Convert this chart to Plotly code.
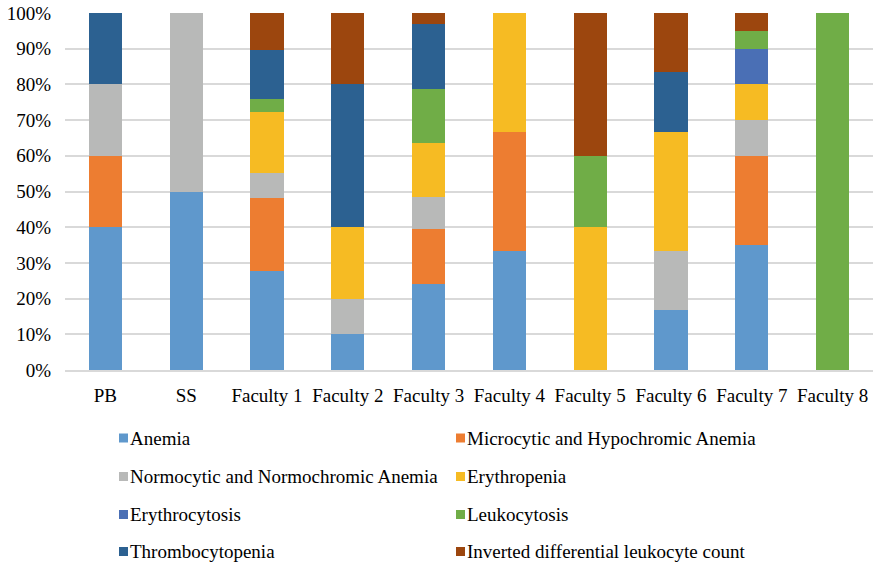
import plotly.graph_objects as go

categories = ["PB", "SS", "Faculty 1", "Faculty 2", "Faculty 3", "Faculty 4",
              "Faculty 5", "Faculty 6", "Faculty 7", "Faculty 8"]

anemia = [40, 50, 27.6, 10, 24.2, 33.3, 0, 16.7, 35, 0]
microcytic = [20, 0, 20.7, 0, 15.2, 33.3, 0, 0, 25, 0]
normocytic = [20, 50, 6.9, 10, 9.1, 0, 0, 16.7, 10, 0]
erythropenia = [0, 0, 17.2, 20, 15.2, 33.4, 40, 33.3, 10, 0]
erythrocytosis = [0, 0, 0, 0, 0, 0, 0, 0, 10, 0]
leukocytosis = [0, 0, 3.4, 0, 15.2, 0, 20, 0, 5, 100]
thrombocytopenia = [20, 0, 13.8, 40, 18.2, 0, 0, 16.7, 0, 0]
inverted = [0, 0, 10.4, 20, 3.0, 0, 40, 16.6, 5, 0]

series_names = ["Anemia", "Microcytic and Hypochromic Anemia",
                "Normocytic and Normochromic Anemia", "Erythropenia",
                "Erythrocytosis", "Leukocytosis", "Thrombocytopenia",
                "Inverted differential leukocyte count"]
series_values = [anemia, microcytic, normocytic, erythropenia,
                 erythrocytosis, leukocytosis, thrombocytopenia, inverted]
colors = ["#5F98CC", "#ED7D31", "#B8B9B8", "#F6BB23",
          "#4A6FB5", "#70AD47", "#2C6191", "#9C460E"]

ytick_vals = [0, 10, 20, 30, 40, 50, 60, 70, 80, 90, 100]
ytick_text = [f"{v}%" for v in ytick_vals]

FONT = "Liberation Serif, Times New Roman, serif"
FS = 19
W, H = 874, 564
ML, MR, MT, MB = 65, 1, 13, 194
PW, PH = W - ML - MR, H - MT - MB

fig = go.Figure()
for name, vals, col in zip(series_names, series_values, colors):
    fig.add_trace(go.Bar(x=categories, y=vals, name=name,
                         marker=dict(color=col, line=dict(width=0)),
                         showlegend=False))

# manual legend (2 columns x 4 rows)
col_x = [119, 456]
row_y = [438, 476.5, 514.5, 551.5]
shapes = []
annotations = []
for i, (name, col) in enumerate(zip(series_names, colors)):
    cx = col_x[i % 2]
    ry = row_y[i // 2]
    x0 = (cx - ML) / PW
    x1 = (cx + 9 - ML) / PW
    y0 = (MT + PH - (ry + 4.5)) / PH
    y1 = (MT + PH - (ry - 4.5)) / PH
    shapes.append(dict(type="rect", xref="paper", yref="paper",
                       x0=x0, x1=x1, y0=y0, y1=y1,
                       fillcolor=col, line=dict(width=0)))
    annotations.append(dict(xref="paper", yref="paper",
                            x=(cx + 9 - ML) / PW,
                            y=(MT + PH - ry) / PH,
                            text=name, showarrow=False,
                            xanchor="left", yanchor="middle",
                            font=dict(family=FONT, size=FS, color="#000000")))

fig.update_layout(
    width=W, height=H,
    margin=dict(l=ML, r=MR, t=MT, b=MB),
    barmode="stack", barnorm="percent", bargap=0.59,
    plot_bgcolor="white", paper_bgcolor="white",
    font=dict(family=FONT, size=FS, color="#000000"),
    shapes=shapes, annotations=annotations,
    showlegend=False,
)
fig.update_yaxes(range=[0, 100], tickvals=ytick_vals, ticktext=ytick_text,
                 showgrid=True, gridcolor="#D9D9D9", gridwidth=1.5,
                 zeroline=False, showline=False, ticks="",
                 ticklabelstandoff=13, tickfont=dict(family=FONT, size=FS))
fig.update_xaxes(showline=True, linecolor="#D9D9D9", linewidth=1.5,
                 ticks="", ticklabelstandoff=7,
                 tickfont=dict(family=FONT, size=FS))

fig.write_html("out.html",
               config={"displayModeBar": False},
               post_script="document.body.style.margin='0';document.body.style.overflow='hidden';")
